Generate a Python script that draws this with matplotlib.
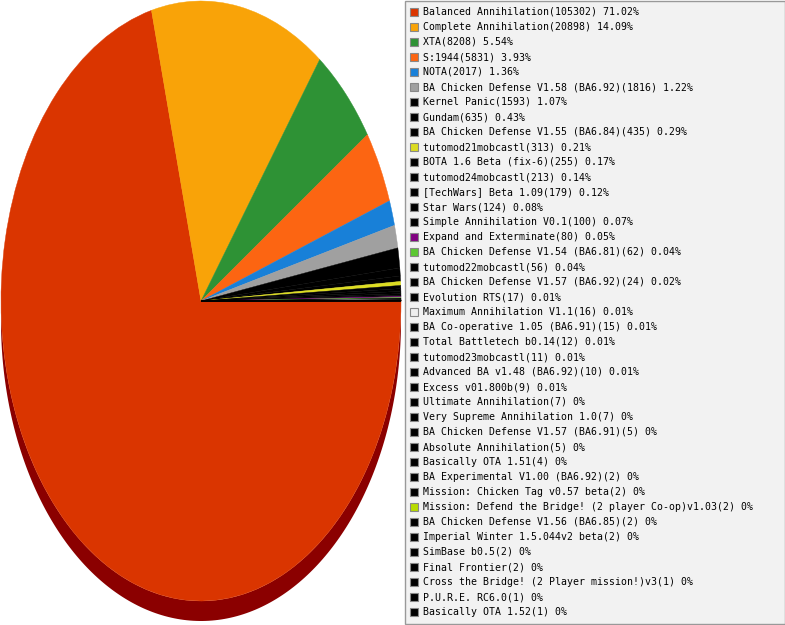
import numpy as np
import matplotlib
matplotlib.use("Agg")
import matplotlib.pyplot as plt
from matplotlib.patches import Rectangle, Polygon

# mod usage counts, largest first (same order as legend)
mods = [
    "Balanced Annihilation", "Complete Annihilation", "XTA", "S:1944", "NOTA",
    "BA Chicken Defense V1.58 (BA6.92)", "Kernel Panic", "Gundam",
    "BA Chicken Defense V1.55 (BA6.84)", "tutomod21mobcastl",
    "BOTA 1.6 Beta (fix-6)", "tutomod24mobcastl", "[TechWars] Beta 1.09",
    "Star Wars", "Simple Annihilation V0.1", "Expand and Exterminate",
    "BA Chicken Defense V1.54 (BA6.81)", "tutomod22mobcastl",
    "BA Chicken Defense V1.57 (BA6.92)", "Evolution RTS",
    "Maximum Annihilation V1.1", "BA Co-operative 1.05 (BA6.91)",
    "Total Battletech b0.14", "tutomod23mobcastl", "Advanced BA v1.48 (BA6.92)",
    "Excess v01.800b", "Ultimate Annihilation", "Very Supreme Annihilation 1.0",
    "BA Chicken Defense V1.57 (BA6.91)", "Absolute Annihilation",
    "Basically OTA 1.51", "BA Experimental V1.00 (BA6.92)",
    "Mission: Chicken Tag v0.57 beta",
    "Mission: Defend the Bridge! (2 player Co-op)v1.03",
    "BA Chicken Defense V1.56 (BA6.85)", "Imperial Winter 1.5.044v2 beta",
    "SimBase b0.5", "Final Frontier", "Cross the Bridge! (2 Player mission!)v3",
    "P.U.R.E. RC6.0", "Basically OTA 1.52",
]
counts = [
    105302, 20898, 8208, 5831, 2017, 1816, 1593, 635, 435, 313,
    255, 213, 179, 124, 100, 80, 62, 56, 24, 17,
    16, 15, 12, 11, 10, 9, 7, 7, 5, 5,
    4, 2, 2, 2, 2, 2, 2, 2, 1, 1, 1,
]

# slice colours; most of the small mods are plain black
special = {
    0: "#DA3500", 1: "#F9A308", 2: "#2E9235", 3: "#FC6512", 4: "#1880D8",
    5: "#A0A0A0", 9: "#DCDC22", 15: "#800080", 16: "#5CC832",
    20: "#EEEEEE", 33: "#B8DC00",
}
colors = [special.get(i, "#000000") for i in range(len(mods))]

W, H = 785, 625
fig = plt.figure(figsize=(W / 100, H / 100), dpi=100)

# pie axes: top face spans x 1..401, y 1..601 px
pie_ax = fig.add_axes([1 / W, 1 - 601 / H, 400 / W, 600 / H])
pie_ax.set_xlim(-1, 1)
pie_ax.set_ylim(-1, 1)
pie_ax.axis("off")

# 3d side band under the pie
depth = 20 / 300
t = np.linspace(0, np.pi, 200)
lower = np.column_stack([np.cos(t), -np.sin(t) - depth])
upper = np.column_stack([np.cos(t[::-1]), -np.sin(t[::-1])])
pie_ax.add_patch(Polygon(np.vstack([lower, upper]), closed=True,
                         facecolor="#8B0000", edgecolor="none", clip_on=False))

wedges, _ = pie_ax.pie(counts, colors=colors, startangle=0, counterclock=False,
                       wedgeprops=dict(linewidth=0.3))
for w in wedges:
    w.set_edgecolor(w.get_facecolor())
pie_ax.set_aspect("auto")
pie_ax.set_xlim(-1, 1)
pie_ax.set_ylim(-1, 1)

# legend panel in pixel coordinates
leg = fig.add_axes([0, 0, 1, 1])
leg.set_xlim(0, W)
leg.set_ylim(H, 0)
leg.axis("off")
leg.add_patch(Rectangle((404.5, 0.5), 380, 623.5, facecolor="#F2F2F2",
                        edgecolor="#999999", linewidth=1))

total = sum(counts)
for i, (name, n, c) in enumerate(zip(mods, counts, colors)):
    y = 12 + 15 * i
    pct = round(100 * n / total, 2)
    label = f"{name}({n}) {pct:g}%"
    leg.add_patch(Rectangle((410, y - 4.5), 8, 8, facecolor=c,
                            edgecolor="#888888", linewidth=0.8))
    leg.text(423, y, label, fontsize=7.15, family="DejaVu Sans Mono",
             va="center", ha="left", color="#000000")

fig.savefig("out.png", dpi=100)
